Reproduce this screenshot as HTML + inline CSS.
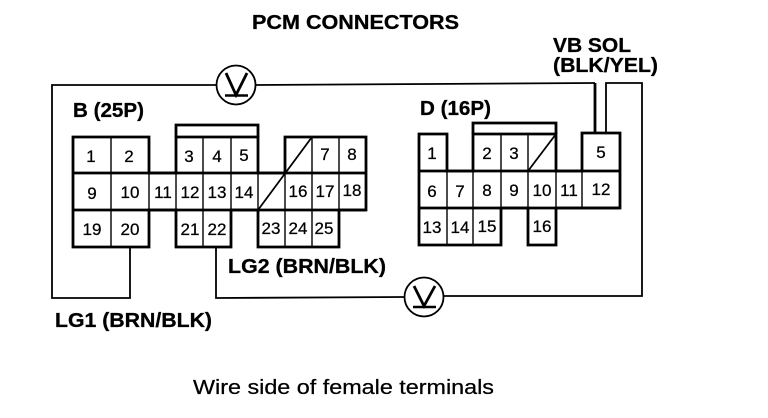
<!DOCTYPE html>
<html>
<head>
<meta charset="utf-8">
<style>
html,body{margin:0;padding:0;background:#fff;}
svg{display:block;}
text{font-family:"Liberation Sans",sans-serif;fill:#000;}
.n{font-size:17px;text-anchor:middle;stroke:#000;stroke-width:.25px;}
.b{font-weight:bold;font-size:20px;stroke:#000;stroke-width:.3px;}
</style>
</head>
<body>
<svg width="768" height="418" viewBox="0 0 768 418" xmlns="http://www.w3.org/2000/svg">
<rect width="768" height="418" fill="#fff"/>
<text class="b" x="252" y="29" textLength="207" lengthAdjust="spacingAndGlyphs">PCM CONNECTORS</text>
<text class="b" x="553" y="52" textLength="78" lengthAdjust="spacingAndGlyphs">VB SOL</text>
<text class="b" x="553" y="72" textLength="105" lengthAdjust="spacingAndGlyphs">(BLK/YEL)</text>
<text class="b" x="73" y="117" textLength="71" lengthAdjust="spacingAndGlyphs">B (25P)</text>
<text class="b" x="420" y="115" textLength="71" lengthAdjust="spacingAndGlyphs">D (16P)</text>
<text class="b" x="228" y="273" textLength="158" lengthAdjust="spacingAndGlyphs">LG2 (BRN/BLK)</text>
<text class="b" x="55" y="327" textLength="157" lengthAdjust="spacingAndGlyphs">LG1 (BRN/BLK)</text>
<text x="193" y="394" font-size="20" stroke="#000" stroke-width=".25" textLength="301" lengthAdjust="spacingAndGlyphs">Wire side of female terminals</text>

<g fill="none" stroke="#000" stroke-width="1.8">
<path d="M216 85H52V298H130V247"/>
<path d="M256 85L430 84L595 83"/>
<path d="M595 83V133" stroke-width="2.8"/>
<path d="M606 133V83H642V296H444"/>
<path d="M404 297L216 298V247"/>
<circle cx="236" cy="85" r="19.5"/>
<circle cx="424" cy="297" r="19.5"/>
<path d="M226 73L236 95L247 73" stroke-width="2.8"/>
<path d="M225 95.500H248" stroke-width="2.4"/>
<path d="M414 286L424 306L435 286" stroke-width="2.8"/>
<path d="M413 307H436" stroke-width="2.4"/>
</g>

<!-- Connector B -->
<g fill="none" stroke="#000" stroke-width="2.8">
<path d="M73 137H149V173H176V137H258V173H285V137H366V210H339V247H258V210H231V247H176V210H149V247H73Z"/>
<path d="M176 137V125H258V137"/>
<path d="M73 173H366M73 210H366"/>
</g>
<g fill="none" stroke="#000" stroke-width="1.4">
<path d="M111 137V247M149 173V210M176 173V210M203 137V247M231 137V210M258 173V210M285 173V247M312 137V247M339 137V210"/>
<path d="M312 137L258 210" stroke-width="1.8"/>
</g>
<g>
<text class="n" x="91" y="162">1</text><text class="n" x="129" y="162">2</text>
<text class="n" x="189" y="162">3</text><text class="n" x="217" y="162">4</text><text class="n" x="244" y="161">5</text>
<text class="n" x="325" y="160">7</text><text class="n" x="352" y="160">8</text>
<text class="n" x="92" y="199">9</text><text class="n" x="130" y="198">10</text><text class="n" x="163" y="198">11</text>
<text class="n" x="190" y="198">12</text><text class="n" x="217" y="198">13</text><text class="n" x="244" y="198">14</text>
<text class="n" x="298" y="197">16</text><text class="n" x="325" y="197">17</text><text class="n" x="352" y="196">18</text>
<text class="n" x="92" y="235">19</text><text class="n" x="130" y="235">20</text>
<text class="n" x="190" y="235">21</text><text class="n" x="217" y="235">22</text>
<text class="n" x="271" y="234">23</text><text class="n" x="298" y="234">24</text><text class="n" x="324" y="234">25</text>
</g>

<!-- Connector D -->
<g fill="none" stroke="#000" stroke-width="2.8">
<path d="M419 134H447V171H473V134H556V171H582V133H620V208H556V245H528V208H501V245H419Z"/>
<path d="M473 134V123H556V134"/>
<path d="M419 171H620M419 208H620"/>
</g>
<g fill="none" stroke="#000" stroke-width="1.4">
<path d="M447 171V245M473 171V245M501 134V208M528 134V208M556 171V208M582 171V208"/>
<path d="M556 134L528 171" stroke-width="1.8"/>
</g>
<g>
<text class="n" x="432" y="159">1</text><text class="n" x="487" y="159">2</text><text class="n" x="514" y="159">3</text>
<text class="n" x="601" y="158">5</text>
<text class="n" x="432" y="197">6</text><text class="n" x="460" y="197">7</text><text class="n" x="487" y="196">8</text>
<text class="n" x="514" y="196">9</text><text class="n" x="542" y="196">10</text><text class="n" x="569" y="196">11</text><text class="n" x="601" y="195">12</text>
<text class="n" x="432" y="233">13</text><text class="n" x="460" y="233">14</text><text class="n" x="487" y="232">15</text>
<text class="n" x="542" y="232">16</text>
</g>
</svg>
</body>
</html>
